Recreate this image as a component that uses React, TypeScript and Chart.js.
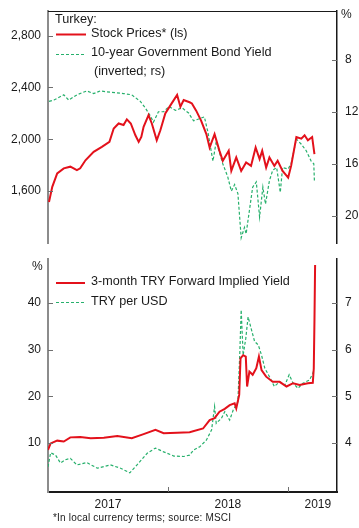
import React, { useEffect, useRef } from 'react';
import { Chart, registerables } from 'chart.js';

Chart.register(...registerables);

const FONT = '"Liberation Sans", Arial, Helvetica, sans-serif';
const RED = '#e3111b';
const GREEN = '#27b06c';
const INK = '#1a1a1a';

// ---------- x axis ----------
const X_MIN = 2017.0;
const X_MAX = 2019.41;
const YEAR_LABELS = ['2017', '2018', '2019'];
const YEAR_LABEL_POS = [2017.5, 2018.5, 2019.25];
const YEAR_TICKS = [2018, 2019];

// ---------- top panel ----------
const STOCK_TICKS = [1600, 2000, 2400, 2800];
const BOND_TICKS = [8, 12, 16, 20];

const STOCK_DATES = [
  '2017-01-04', '2017-01-14', '2017-01-29', '2017-02-18', '2017-03-10', '2017-03-30', '2017-04-09', '2017-04-25', '2017-05-20', '2017-06-14',
  '2017-07-07', '2017-07-20', '2017-08-04', '2017-08-19', '2017-08-29', '2017-09-10', '2017-09-24', '2017-10-04', '2017-10-12', '2017-10-19',
  '2017-11-03', '2017-11-13', '2017-11-28', '2017-12-09', '2017-12-24', '2018-01-09', '2018-01-29', '2018-02-08', '2018-02-18', '2018-03-08',
  '2018-03-15', '2018-03-28', '2018-04-12', '2018-04-28', '2018-05-08', '2018-05-23', '2018-06-07', '2018-06-17', '2018-07-05', '2018-07-13',
  '2018-07-28', '2018-08-12', '2018-08-27', '2018-09-11', '2018-09-25', '2018-10-07', '2018-10-15', '2018-10-27', '2018-11-06', '2018-11-21',
  '2018-12-01', '2018-12-16', '2019-01-02', '2019-01-11', '2019-01-27', '2019-02-11', '2019-02-21', '2019-03-03', '2019-03-16', '2019-03-23',
];
const STOCK_VALUES = [
  1517, 1633, 1737, 1776, 1789, 1763, 1776, 1838, 1903, 1942,
  1980, 2083, 2122, 2110, 2154, 2122, 2031, 1980, 2018, 2096,
  2187, 2122, 1993, 2070, 2200, 2264, 2342, 2251, 2303, 2286,
  2277, 2221, 2144, 2040, 1937, 2040, 1911, 1834, 1911, 1756,
  1860, 1756, 1821, 1795, 1937, 1847, 1911, 1782, 1860, 1795,
  1834, 1756, 1705, 1795, 2018, 2005, 2031, 1993, 2018, 1885,
];

const BOND_DATES = [
  '2017-01-04', '2017-01-19', '2017-02-18', '2017-03-05', '2017-03-30', '2017-04-29', '2017-05-20', '2017-06-09', '2017-07-10', '2017-08-19',
  '2017-09-13', '2017-10-09', '2017-10-24', '2017-11-08', '2017-11-18', '2017-12-03', '2017-12-19', '2018-01-04', '2018-01-24', '2018-02-13',
  '2018-03-05', '2018-03-20', '2018-04-22', '2018-05-03', '2018-05-18', '2018-05-28', '2018-06-17', '2018-07-02', '2018-07-13', '2018-07-23',
  '2018-08-02', '2018-08-12', '2018-08-22', '2018-08-27', '2018-09-06', '2018-09-16', '2018-09-27', '2018-10-07', '2018-10-17', '2018-10-25',
  '2018-11-06', '2018-11-16', '2018-11-28', '2018-12-09', '2018-12-16', '2019-01-02', '2019-01-11', '2019-01-27', '2019-02-11', '2019-02-26',
  '2019-03-13', '2019-03-21', '2019-03-23',
];
const BOND_YIELDS = [
  11.2, 11.1, 10.7, 11.1, 10.7, 10.4, 10.6, 10.4, 10.5, 10.6,
  10.7, 11.2, 11.7, 12.3, 12.8, 12.0, 12.0, 11.6, 11.9, 11.7,
  12.1, 12.7, 12.4, 13.6, 15.8, 14.3, 16.0, 17.0, 18.1, 17.6,
  18.3, 21.7, 20.9, 21.4, 19.6, 17.8, 17.4, 20.1, 17.8, 19.1,
  17.3, 16.5, 16.3, 18.2, 16.3, 16.4, 16.0, 14.1, 14.5, 15.0,
  15.8, 16.0, 17.4,
];

// ---------- bottom panel ----------
const YIELD_TICKS = [10, 20, 30, 40];
const FX_TICKS = [4, 5, 6, 7];

const FWD_DATES = [
  '2017-01-01', '2017-01-09', '2017-01-29', '2017-02-18', '2017-03-10', '2017-04-09', '2017-05-11', '2017-06-20', '2017-07-31', '2017-09-13',
  '2017-10-19', '2017-11-24', '2017-12-19', '2018-01-29', '2018-03-08', '2018-04-18', '2018-05-08', '2018-05-23', '2018-06-07', '2018-06-23',
  '2018-07-08', '2018-07-23', '2018-07-28', '2018-08-06', '2018-08-10', '2018-08-18', '2018-08-26', '2018-08-30', '2018-09-06', '2018-09-16',
  '2018-09-27', '2018-10-05', '2018-10-13', '2018-10-27', '2018-11-16', '2018-12-07', '2018-12-28', '2019-01-17', '2019-02-06', '2019-03-03',
  '2019-03-18', '2019-03-21', '2019-03-23', '2019-03-25',
];
const FWD_YIELDS = [
  8.5, 9.9, 10.5, 10.3, 11.2, 11.3, 11.0, 11.1, 11.5, 11.0,
  11.9, 12.8, 12.1, 12.2, 12.3, 13.1, 14.9, 15.3, 16.7, 17.3,
  18.1, 18.5, 17.4, 20.3, 28.1, 28.8, 28.5, 22.1, 25.3, 24.6,
  26.0, 28.5, 25.6, 24.2, 23.1, 23.1, 22.1, 22.8, 22.4, 22.8,
  22.9, 26.0, 36.0, 48.1,
];

const FX_DATES = [
  '2017-01-01', '2017-01-09', '2017-01-24', '2017-02-08', '2017-02-23', '2017-03-10', '2017-03-30', '2017-04-29', '2017-05-31', '2017-07-10',
  '2017-08-10', '2017-09-07', '2017-09-29', '2017-10-30', '2017-11-24', '2017-12-19', '2018-01-19', '2018-02-18', '2018-03-08', '2018-03-20',
  '2018-04-08', '2018-04-28', '2018-05-14', '2018-05-23', '2018-05-28', '2018-06-13', '2018-06-23', '2018-07-08', '2018-07-19', '2018-08-02',
  '2018-08-08', '2018-08-12', '2018-08-18', '2018-08-26', '2018-09-02', '2018-09-11', '2018-09-22', '2018-10-03', '2018-10-13', '2018-10-23',
  '2018-11-06', '2018-11-21', '2018-12-07', '2018-12-23', '2019-01-05', '2019-01-17', '2019-02-01', '2019-02-16', '2019-03-08', '2019-03-18',
  '2019-03-21',
];
const FX_RATES = [
  3.49, 3.79, 3.74, 3.57, 3.64, 3.67, 3.53, 3.58, 3.46, 3.53,
  3.46, 3.36, 3.53, 3.78, 3.89, 3.81, 3.72, 3.71, 3.74, 3.85,
  3.92, 4.06, 4.28, 4.78, 4.42, 4.53, 4.67, 4.49, 4.71, 4.88,
  5.96, 6.85, 5.88, 6.24, 6.70, 6.46, 6.17, 6.10, 5.88, 5.60,
  5.42, 5.21, 5.31, 5.24, 5.46, 5.28, 5.17, 5.28, 5.35, 5.49,
  5.56,
];

// ---------- helpers ----------
const toYear = (d: string) => {
  const [y, m, dd] = d.split('-').map(Number);
  const start = Date.UTC(y, 0, 1);
  const end = Date.UTC(y + 1, 0, 1);
  return y + (Date.UTC(y, m - 1, dd) - start) / (end - start);
};
const pts = (dates: string[], vals: number[]) => dates.map((d, i) => ({ x: toYear(d), y: vals[i] }));
const commas = (v: number) => String(v).replace(/\B(?=(\d{3})+(?!\d))/g, ',');
const setTicks = (list: number[]) => (s: any) => {
  s.ticks = list.map((v) => ({ value: v }));
};
const fixWidth = (w: number) => (s: any) => {
  s.width = w;
  s.paddingTop = 0;
  s.paddingBottom = 0;
};

const innerTicksPlugin = {
  id: 'innerTicks',
  afterDraw(chart: any, _args: any, opts: any) {
    const { ctx, chartArea, scales } = chart;
    ctx.save();
    ctx.lineWidth = 1;
    ctx.strokeStyle = '#6f6f6f';
    const len = 5;
    for (const id of ['y', 'y1']) {
      const s = scales[id];
      if (!s) continue;
      for (const t of s.ticks) {
        const py = Math.round(s.getPixelForValue(t.value)) + 0.5;
        ctx.beginPath();
        if (s.position === 'left') {
          ctx.moveTo(chartArea.left, py);
          ctx.lineTo(chartArea.left + len, py);
        } else {
          ctx.moveTo(chartArea.right - len, py);
          ctx.lineTo(chartArea.right, py);
        }
        ctx.stroke();
      }
    }
    if (opts && opts.xTicks) {
      const s = scales.x;
      for (const v of YEAR_TICKS) {
        const px = Math.round(s.getPixelForValue(v)) + 0.5;
        ctx.beginPath();
        ctx.moveTo(px, chartArea.bottom);
        ctx.lineTo(px, chartArea.bottom - len);
        ctx.stroke();
      }
    }
    if (opts && opts.topBorder) {
      ctx.strokeStyle = INK;
      ctx.lineWidth = 1.2;
      ctx.beginPath();
      ctx.moveTo(chartArea.left, chartArea.top + 0.5);
      ctx.lineTo(chartArea.right, chartArea.top + 0.5);
      ctx.stroke();
    }
    ctx.restore();
  },
};

const yAxis = (pos: 'left' | 'right', min: number, max: number, ticks: number[], fmt: (v: number) => string, extra: any = {}) => ({
  type: 'linear',
  position: pos,
  min,
  max,
  afterBuildTicks: setTicks(ticks),
  afterFit: fixWidth(pos === 'left' ? 48 : 22),
  grid: { drawOnChartArea: false, drawTicks: false },
  border: pos === 'left' ? { display: true, color: '#8c8c8c', width: 2 } : { display: true, color: INK, width: 1.5 },
  ticks: { padding: pos === 'left' ? 7 : 8, color: INK, font: { family: FONT, size: 12 }, callback: (v: any) => fmt(Number(v)) },
  ...extra,
});

export default function App() {
  const topRef = useRef<HTMLCanvasElement>(null);
  const botRef = useRef<HTMLCanvasElement>(null);

  useEffect(() => {
    const top = new Chart(topRef.current as HTMLCanvasElement, {
      type: 'line',
      data: {
        datasets: [
          { label: 'Stock Prices* (ls)', data: pts(STOCK_DATES, STOCK_VALUES), yAxisID: 'y', borderColor: RED, borderWidth: 2, pointRadius: 0, tension: 0 },
          { label: '10-year Government Bond Yield (inverted; rs)', data: pts(BOND_DATES, BOND_YIELDS), yAxisID: 'y1', borderColor: GREEN, borderWidth: 1.2, borderDash: [3, 2], pointRadius: 0, tension: 0 },
        ],
      },
      options: {
        responsive: false,
        animation: false,
        devicePixelRatio: 1,
        layout: { padding: { top: 11, bottom: 7, left: 0, right: 0 } },
        plugins: { legend: { display: false }, tooltip: { enabled: false }, innerTicks: { topBorder: true } } as any,
        scales: {
          x: { type: 'linear', display: false, min: X_MIN, max: X_MAX },
          y: yAxis('left', 1200, 2990, STOCK_TICKS, commas),
          y1: yAxis('right', 4.25, 22.1, BOND_TICKS, (v) => String(v), { reverse: true }),
        } as any,
      },
      plugins: [innerTicksPlugin],
    } as any);

    const bot = new Chart(botRef.current as HTMLCanvasElement, {
      type: 'line',
      data: {
        datasets: [
          { label: '3-month TRY Forward Implied Yield', data: pts(FWD_DATES, FWD_YIELDS), yAxisID: 'y', borderColor: RED, borderWidth: 2, pointRadius: 0, tension: 0 },
          { label: 'TRY per USD', data: pts(FX_DATES, FX_RATES), yAxisID: 'y1', borderColor: GREEN, borderWidth: 1.2, borderDash: [3, 2], pointRadius: 0, tension: 0 },
        ],
      },
      options: {
        responsive: false,
        animation: false,
        devicePixelRatio: 1,
        layout: { padding: { top: 9, bottom: 0, left: 0, right: 0 } },
        plugins: { legend: { display: false }, tooltip: { enabled: false }, innerTicks: { xTicks: true } } as any,
        scales: {
          x: {
            type: 'linear',
            position: 'bottom',
            min: X_MIN,
            max: X_MAX,
            afterBuildTicks: setTicks(YEAR_LABEL_POS),
            afterFit: (s: any) => {
              s.height = 36;
              s.paddingLeft = 0;
              s.paddingRight = 0;
            },
            grid: { drawOnChartArea: false, drawTicks: false },
            border: { display: true, color: INK, width: 2 },
            ticks: {
              padding: 5,
              autoSkip: false,
              maxRotation: 0,
              color: INK,
              font: { family: FONT, size: 12 },
              callback: (v: any) => {
                const i = YEAR_LABEL_POS.findIndex((p) => Math.abs(p - Number(v)) < 1e-6);
                return i >= 0 ? YEAR_LABELS[i] : '';
              },
            },
          },
          y: yAxis('left', -0.5, 49.4, YIELD_TICKS, (v) => String(v)),
          y1: yAxis('right', 2.95, 7.94, FX_TICKS, (v) => String(v)),
        } as any,
      },
      plugins: [innerTicksPlugin],
    } as any);

    return () => {
      top.destroy();
      bot.destroy();
    };
  }, []);

  const txt = (left: number, top: number, size: number, text: string, extra: any = {}) => (
    <div style={{ position: 'absolute', left, top, fontSize: size, lineHeight: `${size}px`, whiteSpace: 'nowrap', ...extra }}>{text}</div>
  );

  return (
    <div style={{ position: 'fixed', left: 0, top: 0, width: 359, height: 528, background: '#fff', fontFamily: FONT, color: INK, overflow: 'hidden' }}>
      <canvas ref={topRef} width={359} height={250} style={{ position: 'absolute', left: 0, top: 0, width: 359, height: 250 }} />
      <canvas ref={botRef} width={359} height={278} style={{ position: 'absolute', left: 0, top: 250, width: 359, height: 278 }} />
      <svg width={359} height={528} style={{ position: 'absolute', left: 0, top: 0, pointerEvents: 'none' }}>
        <line x1={56} x2={86} y1={34.5} y2={34.5} stroke={RED} strokeWidth={2} />
        <line x1={56} x2={86} y1={54.5} y2={54.5} stroke={GREEN} strokeWidth={1.2} strokeDasharray="3,2" />
        <line x1={56} x2={85} y1={283} y2={283} stroke={RED} strokeWidth={2} />
        <line x1={56} x2={85} y1={302.5} y2={302.5} stroke={GREEN} strokeWidth={1.2} strokeDasharray="3,2" />
      </svg>
      {txt(55, 12.6, 12.7, 'Turkey:')}
      {txt(91, 26.7, 12.7, 'Stock Prices* (ls)')}
      {txt(91, 46.2, 12.7, '10-year Government Bond Yield')}
      {txt(94, 65.2, 12.7, '(inverted; rs)')}
      {txt(341, 8, 12, '%')}
      {txt(32, 259.5, 12, '%')}
      {txt(91, 275.2, 12.6, '3-month TRY Forward Implied Yield')}
      {txt(91, 295.2, 12.6, 'TRY per USD')}
      {txt(53, 513.3, 10, '*In local currency terms; source: MSCI', { letterSpacing: '0.2px' })}
    </div>
  );
}
